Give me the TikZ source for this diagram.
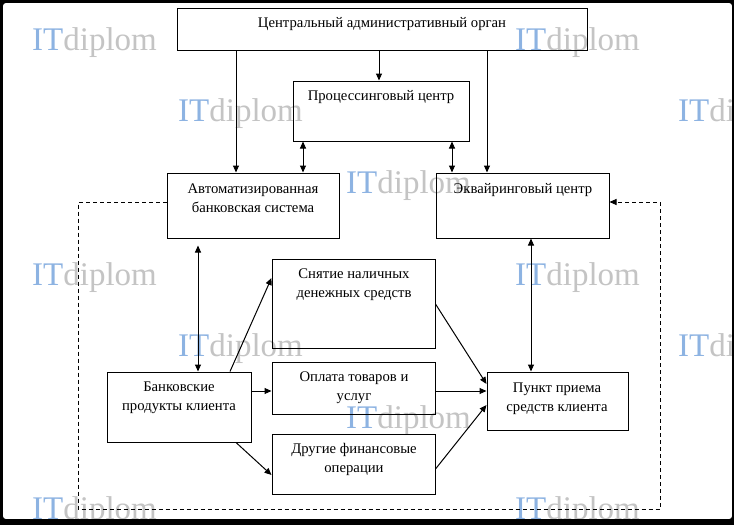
\documentclass[tikz,border=0pt]{standalone}
\usepackage{fontspec}
\setmainfont{Liberation Serif}
\usetikzlibrary{arrows.meta,calc}
\definecolor{wmblue}{HTML}{8DB3E2}
\definecolor{wmgray}{HTML}{C4C4C4}
\begin{document}
\begin{tikzpicture}[x=1pt,y=-1pt,
  box/.style={draw, line width=1pt, inner sep=0pt},
  txt/.style={font=\fontsize{14.7}{19}\selectfont, align=center, inner sep=0pt, anchor=base},
  tip/.style={-{Triangle[length=7pt,width=6pt]}},
  arr/.style={line width=1pt, -{Triangle[length=7pt,width=6pt]}},
  darr/.style={line width=1pt, {Triangle[length=7pt,width=6pt]}-{Triangle[length=7pt,width=6pt]}},
  dsh/.style={line width=0.9pt, dash pattern=on 4pt off 3pt},
  wm/.style={font=\fontsize{33}{33}\selectfont, inner sep=0pt, anchor=base west}
]
\useasboundingbox (0,0) rectangle (734,525);
% frame
\fill[black] (0,0) rectangle (734,525);
\fill[white, rounded corners=3pt] (3,3) rectangle (732,519);

% watermarks
\foreach \i/\px/\py in {1/32/50, 2/515/50, 3/178/121, 4/678/121, 5/346/193, 6/32/285, 7/515/285, 8/178/356, 9/678/356, 10/346/428, 11/32/519, 12/515/519}{
  \node[wm] (wm\i) at (\px,\py) {\textcolor{wmblue}{IT}\textcolor{wmgray}{diplom}};
}
% re-draw frame edges over watermarks
\fill[black] (0,519) rectangle (734,525);
\fill[black] (732,0) rectangle (734,525);

% boxes
\node[box, minimum width=410, minimum height=42] (central) at (382,29) {};
\node[box, minimum width=176, minimum height=60] (proc) at (381,111) {};
\node[box, minimum width=172, minimum height=65] (abs) at (253,205.5) {};
\node[box, minimum width=173, minimum height=65] (acq) at (522.5,205.5) {};
\node[box, minimum width=163, minimum height=89] (snyat) at (353.5,303.5) {};
\node[box, minimum width=163, minimum height=52] (opl) at (353.5,388) {};
\node[box, minimum width=163, minimum height=60] (dr) at (353.5,464) {};
\node[box, minimum width=144, minimum height=70] (bank) at (179,407) {};
\node[box, minimum width=141, minimum height=58] (pp) at (557.5,401) {};

% texts (anchor=base is the baseline of the last line)
\node[txt] (tcentral) at (382,27) {Центральный административный орган};
\node[txt] (tproc) at (381,100) {Процессинговый центр};
\node[txt] (tabs) at (253,212) {Автоматизированная\\банковская система};
\node[txt] (tacq) at (523,193) {Эквайринговый центр};
\node[txt] (tsnyat) at (354,297) {Снятие наличных\\денежных средств};
\node[txt] (topl) at (354,400) {Оплата товаров и\\услуг};
\node[txt] (tdr) at (354,472) {Другие финансовые\\операции};
\node[txt] (tbank) at (179,410) {Банковские\\продукты клиента};
\node[txt] (tpp) at (557,411) {Пункт приема\\средств клиента};

% helper coordinates
\coordinate (xa) at (236,0);
\coordinate (xb) at (379,0);
\coordinate (xc) at (487,0);
\coordinate (xd) at (303,0);
\coordinate (xe) at (452,0);
\coordinate (xf) at (198,0);
\coordinate (xg) at (531,0);
\coordinate (b1) at (230,0);
\coordinate (b3) at (236,0);
\coordinate (ys) at (0,278);
\coordinate (yo) at (0,391);
\coordinate (yd) at (0,475);
\coordinate (y1) at (0,304);
\coordinate (y2) at (0,384);
\coordinate (y3) at (0,469);
\coordinate (y4) at (0,405);
\coordinate (ydash) at (0,202);
\coordinate (dl) at (78,509);
\coordinate (drr) at (660,509);

% connectors
\draw[arr] (central.south -| xa) -- (abs.north -| xa);
\draw[arr] (central.south -| xb) -- (proc.north -| xb);
\draw[arr] (central.south -| xc) -- (acq.north -| xc);
\draw[darr] (proc.south -| xd) -- (abs.north -| xd);
\draw[darr] (proc.south -| xe) -- (acq.north -| xe);
\draw[darr, shorten <=7pt] (abs.south -| xf) -- (bank.north -| xf);
\draw[darr] (acq.south -| xg) -- (pp.north -| xg);
\draw[arr] (bank.north -| b1) -- (snyat.west |- ys);
\draw[arr] (bank.east |- yo) -- (opl.west |- yo);
\draw[arr] (bank.south -| b3) -- (dr.west |- yd);
\draw[arr] (snyat.east |- y1) -- (pp.west |- y2);
\draw[arr] (opl.east |- yo) -- (pp.west |- yo);
\draw[arr] (dr.east |- y3) -- (pp.west |- y4);
\draw[dsh, tip] (abs.west |- ydash) -| (dl) -| (drr |- ydash) -- (acq.east |- ydash);
\end{tikzpicture}
\end{document}
